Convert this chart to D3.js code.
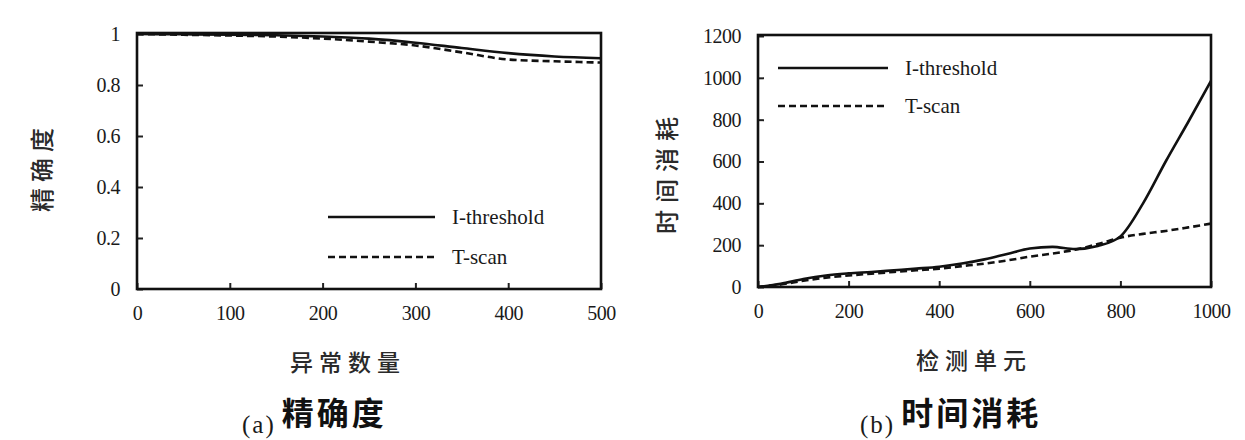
<!DOCTYPE html>
<html>
<head>
<meta charset="utf-8">
<script src="https://cdn.jsdelivr.net/npm/d3@7"></script>
<style>
  body { margin: 0; background: #fff; }
</style>
</head>
<body>
<div id="chart"></div>
<script>
// panel (a): accuracy vs number of anomalies
const anomalyCounts = [0, 50, 100, 150, 200, 250, 300, 350, 400, 450, 500];
const accIThreshold = [1.0, 0.999, 0.997, 0.995, 0.99, 0.982, 0.966, 0.945, 0.925, 0.912, 0.905];
const accTScan = [1.0, 0.997, 0.994, 0.99, 0.982, 0.97, 0.955, 0.928, 0.9, 0.893, 0.888];
const accTicks = [0, 0.2, 0.4, 0.6, 0.8, 1];
const countTicks = [0, 100, 200, 300, 400, 500];

// panel (b): time cost vs detection units
const units = [0, 50, 100, 150, 200, 250, 300, 350, 400, 450, 500, 550, 600, 650, 700, 750, 800, 850, 900, 950, 1000];
const timeIThreshold = [0, 15, 38, 55, 65, 72, 80, 88, 97, 112, 132, 158, 184, 192, 181, 196, 242, 400, 600, 790, 985];
const timeTScan = [0, 12, 30, 45, 55, 64, 72, 80, 88, 100, 112, 127, 145, 160, 178, 205, 236, 254, 268, 285, 303];
const timeTicks = [0, 200, 400, 600, 800, 1000, 1200];
const unitTicks = [0, 200, 400, 600, 800, 1000];

const seriesNames = ["I-threshold", "T-scan"];

const SERIF = "'Liberation Serif', 'DejaVu Serif', serif";
const CJK = "'Noto Sans CJK SC', sans-serif";

const svg = d3.select("#chart")
  .append("svg")
  .attr("width", 1245)
  .attr("height", 440);

function panel(opt) {
  const x = d3.scaleLinear().domain(opt.xDomain).range([opt.left, opt.right]);
  const y = d3.scaleLinear().domain(opt.yDomain).range([opt.bottom, opt.top]);

  const g = svg.append("g");

  // inward ticks
  const xAxis = g.append("g")
    .attr("transform", `translate(0, ${opt.bottom})`)
    .call(d3.axisBottom(x).tickValues(opt.xTicks).tickFormat(d => String(d))
      .tickSizeInner(-6).tickSizeOuter(0).tickPadding(24));
  const yAxis = g.append("g")
    .attr("transform", `translate(${opt.left}, 0)`)
    .call(d3.axisLeft(y).tickValues(opt.yTicks).tickFormat(d => String(d))
      .tickSizeInner(-6).tickSizeOuter(0).tickPadding(17));
  [xAxis, yAxis].forEach(a => {
    a.attr("font-family", SERIF).attr("font-size", 20);
    a.select(".domain").remove();
    a.selectAll(".tick line").attr("stroke", "#222").attr("stroke-width", 2);
    a.selectAll(".tick text").attr("fill", "#1a1a1a").attr("letter-spacing", -0.5);
  });
  xAxis.selectAll(".tick text").attr("dy", "0.35em");

  const line = d3.line()
    .x((d, i) => x(opt.xs[i]))
    .y(d => y(d))
    .curve(d3.curveMonotoneX);

  g.append("path")
    .datum(opt.s1)
    .attr("d", line)
    .attr("fill", "none")
    .attr("stroke", "#111")
    .attr("stroke-width", 2.6);

  g.append("path")
    .datum(opt.s2)
    .attr("d", line)
    .attr("fill", "none")
    .attr("stroke", "#111")
    .attr("stroke-width", 2.6)
    .attr("stroke-dasharray", "7 4");

  // frame
  g.append("rect")
    .attr("x", opt.left)
    .attr("y", opt.top - 1)
    .attr("width", opt.right - opt.left)
    .attr("height", opt.bottom - opt.top + 1)
    .attr("fill", "none")
    .attr("stroke", "#111")
    .attr("stroke-width", 2.6);

  // legend
  const leg = g.append("g").attr("transform", `translate(${opt.legX}, ${opt.legY})`);
  seriesNames.forEach((name, i) => {
    const yy = i * opt.legGap;
    leg.append("line")
      .attr("x1", 0).attr("x2", opt.legLen)
      .attr("y1", yy).attr("y2", yy)
      .attr("stroke", "#111")
      .attr("stroke-width", 2.6)
      .attr("stroke-dasharray", i === 1 ? "7 4" : null);
    leg.append("text")
      .attr("x", opt.legLen + 17)
      .attr("y", yy)
      .attr("dy", "0.35em")
      .attr("font-family", SERIF)
      .attr("font-size", 21)
      .attr("fill", "#1a1a1a")
      .text(name);
  });

  // axis titles
  g.append("text")
    .attr("x", opt.xTitleX)
    .attr("y", opt.xTitleY)
    .attr("text-anchor", "middle")
    .attr("dy", "0.35em")
    .attr("font-family", CJK)
    .attr("font-weight", 500)
    .attr("font-size", 23)
    .attr("letter-spacing", 6)
    .attr("fill", "#2a2a2a")
    .text(opt.xTitle);

  g.append("text")
    .attr("transform", `translate(${opt.yTitleX}, ${opt.yTitleY}) rotate(-90)`)
    .attr("text-anchor", "middle")
    .attr("dy", "0.35em")
    .attr("font-family", CJK)
    .attr("font-weight", 500)
    .attr("font-size", 24)
    .attr("letter-spacing", opt.yTitleSpacing)
    .attr("fill", "#2a2a2a")
    .text(opt.yTitle);

  // caption
  const cap = g.append("text")
    .attr("x", opt.capX)
    .attr("y", opt.capY);
  cap.append("tspan")
    .attr("font-family", SERIF)
    .attr("font-size", 25)
    .attr("letter-spacing", 2)
    .attr("fill", "#1a1a1a")
    .attr("dy", 8)
    .text(opt.capLetter);
  cap.append("tspan")
    .attr("font-family", CJK)
    .attr("font-size", 32)
    .attr("font-weight", "bold")
    .attr("fill", "#111")
    .attr("dy", -8)
    .attr("dx", 6)
    .attr("letter-spacing", 3)
    .text(opt.capText);
}

panel({
  xDomain: [0, 500], yDomain: [0, 1],
  left: 137, right: 601, top: 34, bottom: 289,
  xTicks: countTicks, yTicks: accTicks,
  xs: anomalyCounts, s1: accIThreshold, s2: accTScan,
  legX: 328, legY: 217, legLen: 107, legGap: 40,
  xTitle: "异常数量", xTitleX: 348, xTitleY: 363,
  yTitle: "精确度", yTitleX: 43, yTitleY: 167, yTitleSpacing: 6,
  capLetter: "(a)", capText: "精确度", capX: 242, capY: 425
});

panel({
  xDomain: [0, 1000], yDomain: [0, 1200],
  left: 758, right: 1211, top: 36, bottom: 287,
  xTicks: unitTicks, yTicks: timeTicks,
  xs: units, s1: timeIThreshold, s2: timeTScan,
  legX: 778, legY: 68, legLen: 110, legGap: 38,
  xTitle: "检测单元", xTitleX: 974, xTitleY: 361,
  yTitle: "时间消耗", yTitleX: 668, yTitleY: 172, yTitleSpacing: 7,
  capLetter: "(b)", capText: "时间消耗", capX: 860, capY: 425
});
</script>
</body>
</html>
